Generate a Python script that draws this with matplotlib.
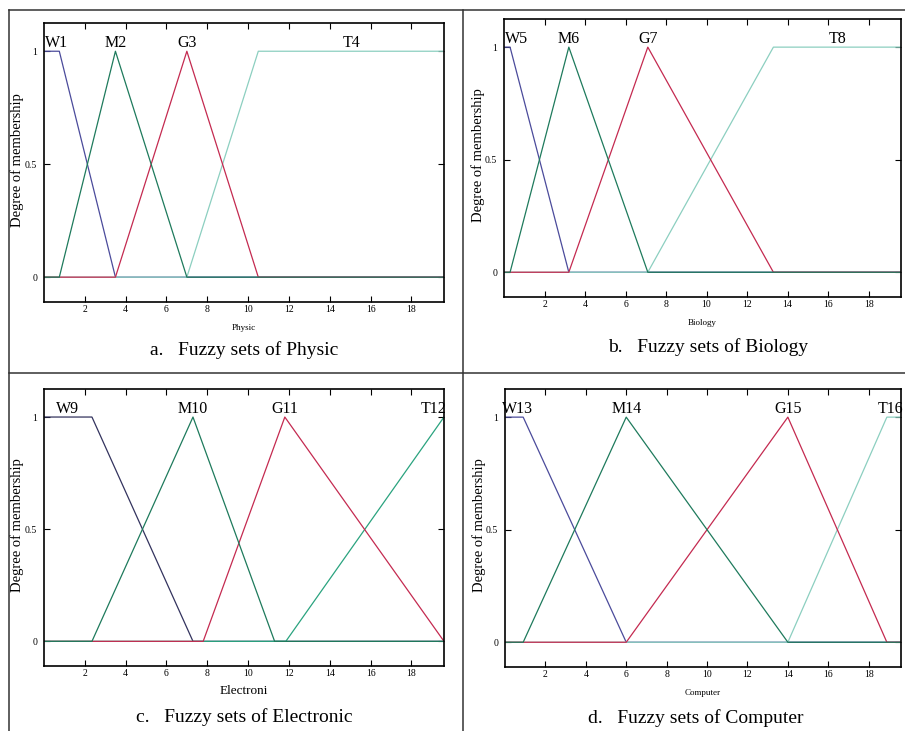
import matplotlib
matplotlib.use("Agg")
import matplotlib.pyplot as plt
from matplotlib.lines import Line2D

plt.rcParams["font.family"] = ["Liberation Serif", "DejaVu Serif"]

X_MAX = 19.6

# trapezoid membership functions (a, b, c, d)
physic_labels = ["W1", "M2", "G3", "T4"]
physic_sets = [(0, 0, 0.75, 3.5), (0.75, 3.5, 3.5, 7.0),
               (3.5, 7.0, 7.0, 10.5), (7.0, 10.5, 19.6, 19.6)]

biology_labels = ["W5", "M6", "G7", "T8"]
biology_sets = [(0, 0, 0.3, 3.2), (0.3, 3.2, 3.2, 7.1),
                (3.2, 7.1, 7.1, 13.3), (7.1, 13.3, 19.6, 19.6)]

electronic_labels = ["W9", "M10", "G11", "T12"]
electronic_sets = [(0, 0, 2.35, 7.3), (2.35, 7.3, 7.3, 11.3),
                   (7.8, 11.8, 11.8, 19.6), (11.85, 19.6, 19.6, 19.6)]

computer_labels = ["W13", "M14", "G15", "T16"]
computer_sets = [(0, 0, 0.9, 6.0), (0.9, 6.0, 6.0, 14.0),
                 (6.0, 14.0, 14.0, 18.9), (14.0, 18.9, 19.6, 19.6)]

x_ticks = [2, 4, 6, 8, 10, 12, 14, 16, 18]
y_ticks = [0, 0.5, 1]
y_tick_labels = ["0", "0.5", "1"]

COLORS = ["#4b4b9b", "#1e7a5c", "#c42a50", "#8ccfc0"]
COLORS_C = ["#33335e", "#1e7a5c", "#c42a50", "#2aa37f"]

W, H = 905, 731


def px_rect(l, t, r, b):
    return [l / W, 1 - b / H, (r - l) / W, (b - t) / H]


def trapmf(x, a, b, c, d):
    if x < a:
        return 0.0
    if x < b:
        return (x - a) / (b - a)
    if x <= c:
        return 1.0
    if x < d:
        return (d - x) / (d - c)
    return 0.0


def draw_panel(fig, rect, labels, sets, xlabel, xlabel_size, colors):
    ax = fig.add_axes(px_rect(*rect))
    # draw order so the zero line looks like the scan
    for i in [0, 3, 2, 1]:
        a, b, c, d = sets[i]
        xs = sorted(set([0, a, b, c, d, X_MAX]))
        ys = [trapmf(x, a, b, c, d) for x in xs]
        ax.plot(xs, ys, color=colors[i], lw=0.9)
        lx = min(max((b + c) / 2, 0.6), 19.1)
        ax.text(lx, 1.0, labels[i], ha="center", va="bottom", fontsize=11.5,
                clip_on=False)
    ax.set_xlim(0, X_MAX)
    ax.set_ylim(-0.11, 1.125)
    ax.set_xticks(x_ticks)
    ax.set_yticks(y_ticks)
    ax.set_yticklabels(y_tick_labels)
    ax.tick_params(axis="both", direction="in", top=True, right=True,
                   length=4, width=0.8, labelsize=7)
    ax.tick_params(axis="x", pad=2.5)
    ax.tick_params(axis="y", pad=5)
    for s in ax.spines.values():
        s.set_linewidth(1.2)
    ax.text(0.5, -0.092, xlabel, transform=ax.transAxes, ha="center",
            va="center", fontsize=xlabel_size)
    ax.text(-0.066, 0.51, "Degree of membership", transform=ax.transAxes,
            rotation=90, ha="center", va="center", fontsize=10.5)
    return ax


def main():
    fig = plt.figure(figsize=(W / 100, H / 100), dpi=100)

    draw_panel(fig, (44, 23, 444, 302), physic_labels, physic_sets,
               "Physic", 6.5, COLORS)
    draw_panel(fig, (504, 19, 901, 297), biology_labels, biology_sets,
               "Biology", 6.5, COLORS)
    draw_panel(fig, (44, 389, 444, 666), electronic_labels, electronic_sets,
               "Electroni", 9.5, COLORS_C)
    draw_panel(fig, (505, 389, 901, 667), computer_labels, computer_sets,
               "Computer", 6.5, COLORS)

    captions = [("a.   Fuzzy sets of Physic", 244, 350),
                ("b.   Fuzzy sets of Biology", 708, 347),
                ("c.   Fuzzy sets of Electronic", 244, 717),
                ("d.   Fuzzy sets of Computer", 696, 718)]
    for txt, x, y in captions:
        fig.text(x / W, 1 - y / H, txt, ha="center", va="center", fontsize=14)

    # table borders around the four sub-figures
    grid = [((9, 9), (10, 731)), ((9, 905), (10, 10)),
            ((463, 463), (10, 731)), ((9, 905), (373, 373))]
    for xs, ys in grid:
        fig.add_artist(Line2D([x / W for x in xs], [1 - y / H for y in ys],
                              color="#333333", lw=1.1))

    fig.savefig("out.png", dpi=100)


if __name__ == "__main__":
    main()
